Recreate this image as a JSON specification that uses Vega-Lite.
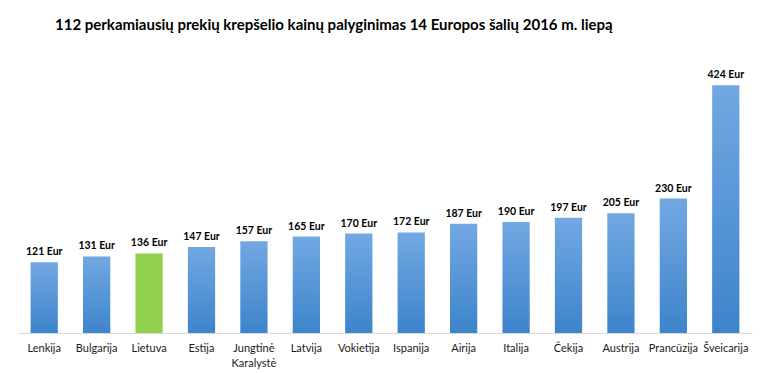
{
  "$schema": "https://vega.github.io/schema/vega-lite/v6.json",
  "autosize": "none",
  "width": 734,
  "height": 273,
  "padding": {"left": 18, "top": 60, "right": 9, "bottom": 40},
  "background": "white",
  "title": {
    "text": "112 perkamiausių prekių krepšelio kainų palyginimas 14 Europos šalių 2016 m. liepą",
    "anchor": "start",
    "dx": 37,
    "offset": 27,
    "font": "Lato",
    "fontSize": 15,
    "fontWeight": "bold",
    "color": "#000000"
  },
  "data": {
    "values": [
      {"country": "Lenkija", "price": 121},
      {"country": "Bulgarija", "price": 131},
      {"country": "Lietuva", "price": 136},
      {"country": "Estija", "price": 147},
      {"country": "Jungtinė Karalystė", "price": 157},
      {"country": "Latvija", "price": 165},
      {"country": "Vokietija", "price": 170},
      {"country": "Ispanija", "price": 172},
      {"country": "Airija", "price": 187},
      {"country": "Italija", "price": 190},
      {"country": "Čekija", "price": 197},
      {"country": "Austrija", "price": 205},
      {"country": "Prancūzija", "price": 230},
      {"country": "Šveicarija", "price": 424}
    ]
  },
  "config": {"view": {"stroke": null}},
  "encoding": {
    "x": {
      "field": "country",
      "type": "nominal",
      "sort": ["Lenkija", "Bulgarija", "Lietuva", "Estija", "Jungtinė Karalystė", "Latvija", "Vokietija", "Ispanija", "Airija", "Italija", "Čekija", "Austrija", "Prancūzija", "Šveicarija"],
      "scale": {"paddingInner": 0.48, "paddingOuter": 0.24},
      "axis": {
        "title": null,
        "labelAngle": 0,
        "ticks": false,
        "domainColor": "#d9d9d9",
        "domainWidth": 1,
        "labelPadding": 9,
        "labelFont": "Lato",
        "labelFontSize": 11,
        "labelColor": "#1a1a1a",
        "labelLineHeight": 15,
        "labelExpr": "split(datum.label, ' ')"
      }
    },
    "y": {
      "field": "price",
      "type": "quantitative",
      "scale": {"domain": [0, 467]},
      "axis": null
    }
  },
  "layer": [
    {
      "transform": [{"filter": "datum.country !== 'Lietuva'"}],
      "mark": {
        "type": "bar",
        "color": {
          "gradient": "linear",
          "x1": 0, "y1": 0, "x2": 0, "y2": 1,
          "stops": [
            {"offset": 0, "color": "#72a8e2"},
            {"offset": 1, "color": "#3d84cb"}
          ]
        }
      }
    },
    {
      "transform": [{"filter": "datum.country === 'Lietuva'"}],
      "mark": {"type": "bar", "color": "#92d050"}
    },
    {
      "transform": [{"calculate": "datum.price + ' Eur'", "as": "label"}],
      "mark": {
        "type": "text",
        "baseline": "bottom",
        "dy": -5,
        "font": "Lato",
        "fontSize": 10.5,
        "fontWeight": "bold",
        "color": "#000000"
      },
      "encoding": {"text": {"field": "label"}}
    }
  ]
}
